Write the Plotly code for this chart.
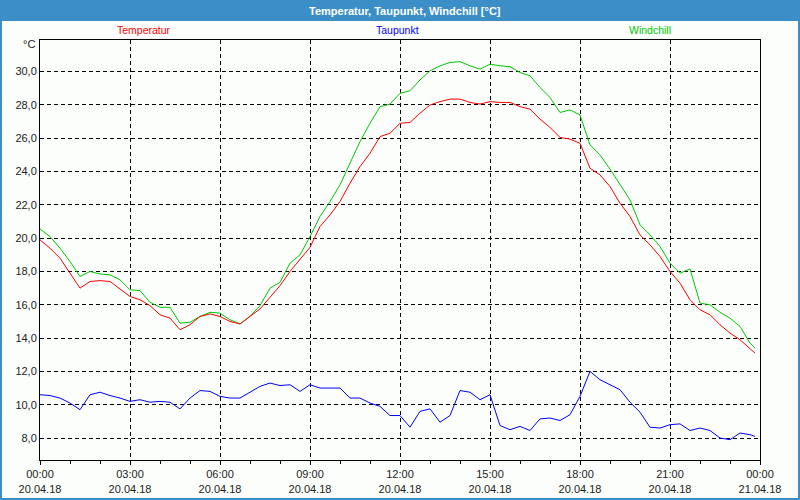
import pandas as pd
import plotly.graph_objects as go

# ---- data (20-minute readings, 20.04.2018) ----
times = list(pd.date_range("2018-04-20 00:00", "2018-04-20 23:40", freq="20min")) + [pd.Timestamp("2018-04-20 23:50")]

temperatur = [
    19.9, 19.4, 18.8, 17.9, 17.0, 17.4, 17.45, 17.4, 16.95, 16.5,
    16.3, 15.95, 15.4, 15.2, 14.5, 14.8, 15.3, 15.45, 15.3, 15.0,
    14.85, 15.3, 15.75, 16.45, 17.15, 18.0, 18.75, 19.45, 20.7, 21.4,
    22.2, 23.3, 24.3, 25.1, 26.1, 26.3, 26.9, 26.95, 27.5, 28.0,
    28.2, 28.35, 28.35, 28.15, 28.05, 28.2, 28.15, 28.15, 27.9, 27.75,
    27.15, 26.65, 26.05, 25.95, 25.7, 24.2, 23.8, 23.1, 22.1, 21.3,
    20.2, 19.6, 18.9, 18.0, 17.3, 16.3, 15.7, 15.4, 14.8, 14.3,
    13.9, 13.4, 13.1]

windchill = [
    20.55, 20.1, 19.4, 18.6, 17.7, 18.0, 17.85, 17.8, 17.5, 16.9,
    16.85, 16.15, 15.85, 15.85, 14.9, 14.95, 15.3, 15.55, 15.5, 15.1,
    14.85, 15.3, 15.95, 17.0, 17.35, 18.5, 19.0, 20.1, 21.3, 22.2,
    23.2, 24.5, 25.8, 26.9, 27.9, 28.05, 28.7, 28.85, 29.5, 30.05,
    30.35, 30.55, 30.6, 30.35, 30.15, 30.45, 30.35, 30.3, 29.95, 29.75,
    29.05, 28.45, 27.55, 27.7, 27.4, 25.6, 25.0, 24.15, 23.2, 22.3,
    20.8, 20.2, 19.5, 18.5, 17.9, 18.15, 16.1, 16.0, 15.55, 15.2,
    14.7, 13.7, 13.4]

taupunkt = [
    10.6, 10.55, 10.4, 10.1, 9.7, 10.6, 10.75, 10.55, 10.4, 10.2,
    10.3, 10.15, 10.2, 10.15, 9.75, 10.4, 10.85, 10.8, 10.5, 10.4,
    10.4, 10.75, 11.1, 11.3, 11.15, 11.2, 10.8, 11.2, 11.0, 11.0,
    11.0, 10.4, 10.4, 10.1, 9.9, 9.35, 9.35, 8.65, 9.6, 9.75,
    8.95, 9.35, 10.85, 10.75, 10.3, 10.6, 8.75, 8.5, 8.7, 8.45,
    9.15, 9.2, 9.05, 9.4, 10.5, 12.0, 11.5, 11.2, 10.9, 10.15,
    9.55, 8.65, 8.6, 8.8, 8.85, 8.45, 8.6, 8.45, 8.0, 7.9,
    8.3, 8.2, 8.1]

x_tickvals = ["2018-04-20 00:00", "2018-04-20 03:00", "2018-04-20 06:00", "2018-04-20 09:00",
              "2018-04-20 12:00", "2018-04-20 15:00", "2018-04-20 18:00", "2018-04-20 21:00",
              "2018-04-21 00:00"]
x_ticktext = ["00:00<br>20.04.18", "03:00<br>20.04.18", "06:00<br>20.04.18", "09:00<br>20.04.18",
              "12:00<br>20.04.18", "15:00<br>20.04.18", "18:00<br>20.04.18", "21:00<br>20.04.18",
              "00:00<br>21.04.18"]
y_tickvals = [8, 10, 12, 14, 16, 18, 20, 22, 24, 26, 28, 30]
y_ticktext = ["8,0", "10,0", "12,0", "14,0", "16,0", "18,0", "20,0", "22,0", "24,0", "26,0", "28,0", "30,0"]

series_names = ["Temperatur", "Taupunkt", "Windchill"]
series_colors = ["#ff0000", "#0000ff", "#00c800"]
title_text = "Temperatur, Taupunkt, Windchill [°C]"
unit_text = "°C"

# ---- figure ----
W, H = 800, 500
L, R, T, B = 40, 40, 40, 40
pw, ph = W - L - R, H - T - B


def px2paper(px, py):
    return (px - L) / pw, (H - B - py) / ph


fig = go.Figure()
for name, ys, col in zip(["Windchill", "Temperatur", "Taupunkt"],
                         [windchill, temperatur, taupunkt],
                         ["#00c800", "#ff0000", "#0000ff"]):
    fig.add_trace(go.Scatter(x=times, y=ys, mode="lines", name=name,
                             line=dict(color=col, width=1), showlegend=False))

bg = "#fbfefb"
fnt = "Liberation Sans, Arial, sans-serif"

shapes = []
# title bar
x0, y0 = px2paper(0, 21)
x1, y1 = px2paper(800, 0)
shapes.append(dict(type="rect", xref="paper", yref="paper", x0=x0, y0=y0, x1=x1, y1=y1,
                   fillcolor="#3c8fc6", line=dict(width=0), layer="above"))
# outer frame
x0, y0 = px2paper(1, 499)
x1, y1 = px2paper(799, 1)
shapes.append(dict(type="rect", xref="paper", yref="paper", x0=x0, y0=y0, x1=x1, y1=y1,
                   fillcolor="rgba(0,0,0,0)", line=dict(color="#3c8fc6", width=2), layer="above"))

annotations = []
tx, ty = px2paper(405, 11)
annotations.append(dict(text="<b>" + title_text + "</b>", x=tx, y=ty, xref="paper", yref="paper",
                        showarrow=False, xanchor="center", yanchor="middle",
                        font=dict(family=fnt, size=11, color="white")))
for name, col, cx in zip(series_names, series_colors, [144, 397, 650]):
    ax_, ay_ = px2paper(cx, 30)
    annotations.append(dict(text=name, x=ax_, y=ay_, xref="paper", yref="paper", showarrow=False,
                            xanchor="center", yanchor="middle",
                            font=dict(family=fnt, size=10.5, color=col)))
ux, uy = px2paper(37, 44)
annotations.append(dict(text=unit_text, x=ux, y=uy, xref="paper", yref="paper", showarrow=False,
                        xanchor="right", yanchor="middle",
                        font=dict(family=fnt, size=11, color="#222222")))

fig.update_layout(
    width=W, height=H, autosize=False,
    margin=dict(l=L, r=R, t=T, b=B, pad=0),
    paper_bgcolor=bg, plot_bgcolor=bg,
    shapes=shapes, annotations=annotations,
    hovermode=False,
    font=dict(family=fnt, size=11, color="#222222"),
)
fig.update_xaxes(
    type="date", automargin=False,
    range=["2018-04-20 00:00", "2018-04-21 00:00"],
    tickmode="array", tickvals=x_tickvals, ticktext=x_ticktext,
    ticks="outside", ticklen=4, tickcolor="black", tickwidth=1,
    ticklabelstandoff=0,
    showgrid=True, gridcolor="black", gridwidth=1, griddash="4px,3px",
    showline=True, linecolor="black", linewidth=1, mirror=True,
    zeroline=False,
    minor=dict(tickmode="linear", tick0="2018-04-20 00:00", dtick=3600000,
               ticks="outside", ticklen=3, tickcolor="black", showgrid=False),
    tickfont=dict(family=fnt, size=11, color="#222222"),
)
fig.update_yaxes(
    automargin=False,
    range=[6.68, 31.9],
    tickmode="array", tickvals=y_tickvals, ticktext=y_ticktext,
    ticks="", showgrid=True, gridcolor="black", gridwidth=1, griddash="4px,3px",
    showline=True, linecolor="black", linewidth=1, mirror=True,
    zeroline=False,
    tickfont=dict(family=fnt, size=11, color="#222222"),
)

fig.write_html("out.html",
               config={"responsive": False, "displayModeBar": False},
               post_script="document.body.style.margin='0';")
